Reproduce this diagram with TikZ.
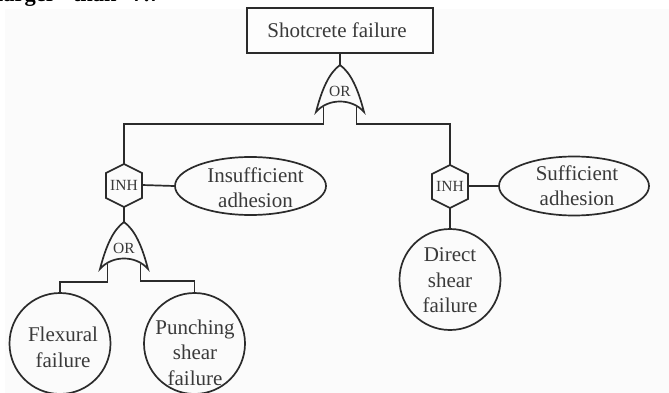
\documentclass[tikz,border=0pt]{standalone}
\usepackage{fontspec}
\setmainfont{Liberation Serif}
\usetikzlibrary{shapes.geometric}
\definecolor{ink}{HTML}{2B2B2B}
\definecolor{txt}{HTML}{3A3A3A}
\definecolor{panel}{HTML}{FBFBFB}
\tikzset{
  x=1pt,y=-1pt,
  line/.style={draw=ink,line width=1.7pt,line join=miter},
  topbox/.style={line,minimum width=186pt,minimum height=45pt,inner sep=0pt},
  cond/.style={line,ellipse,inner sep=0pt},
  basic/.style={line,circle,minimum size=101pt,inner sep=0pt},
  body/.style={inner sep=0pt,align=center,font=\fontsize{21}{25.5}\selectfont,text=txt},
  gatetext/.style={inner sep=0pt,font=\fontsize{15.5}{17}\selectfont,text=txt},
  cnr/.style={line}
}
\newcommand{\orgate}[3]{% name, x, apex y
  \path (#2,#3) coordinate (#1top) (#2-16.5,#3+42) coordinate (#1l) (#2+16.5,#3+42) coordinate (#1r);
  \draw[line] (#2,#3) .. controls (#2+11,#3+8) and (#2+18,#3+24) .. (#2+24,#3+47)
     .. controls (#2+12,#3+33) and (#2-12,#3+33) .. (#2-24,#3+47)
     .. controls (#2-18,#3+24) and (#2-11,#3+8) .. cycle;
  \node[gatetext] (#1t) at (#2,#3+26) {OR};
}
\newcommand{\inhgate}[3]{% name, x, top y
  \draw[line] (#2,#3) -- (#2+18,#3+9) -- (#2+18,#3+34) -- (#2,#3+43) -- (#2-18,#3+34) -- (#2-18,#3+9) -- cycle;
  \path (#2,#3) coordinate (#1top) (#2,#3+43) coordinate (#1bot) (#2+18,#3+21) coordinate (#1r);
  \node[gatetext] (#1t) at (#2,#3+21.5) {INH};
}
\begin{document}
\begin{tikzpicture}
\useasboundingbox (0,0) rectangle (669,393);
\fill[panel] (5,9) rectangle (669,393);
\begin{scope}
\clip (0,0) rectangle (669,393);
\node[anchor=base west,inner sep=0pt,font=\bfseries\fontsize{22.5}{24}\selectfont] (head) at (-3,1.5) {larger\hspace{17pt}than\hspace{16pt}7.7};
\end{scope}

\node[topbox,fill=white!40!panel] (top) at (340,30.5) {};
\node[body] (topt) at (337,30.5) {Shotcrete failure};
\orgate{ga}{340}{65}
\inhgate{ha}{124}{164}
\inhgate{hb}{450}{165}
\orgate{gb}{124}{222}

\node[cond,minimum width=151pt,minimum height=58pt] (ia) at (250.5,186) {};
\node[body] (iat) at (255.5,187.5) {Insufficient\\adhesion};
\node[cond,minimum width=150pt,minimum height=59pt] (sa) at (574,186) {};
\node[body] (sat) at (577,185.5) {Sufficient\\adhesion};
\node[basic] (ff) at (60,343.5) {};
\node[body] (fft) at (63,347.5) {Flexural\\failure};
\node[basic] (ps) at (194.5,343.5) {};
\node[body] (pst) at (195,352.5) {Punching\\shear\\failure};
\node[basic] (ds) at (450,279.5) {};
\node[body] (dst) at (450,280.5) {Direct\\shear\\failure};

\draw[cnr] (top.south) -- (gatop);
\draw[cnr] (gal) -- ++(0,17) -| (hatop);
\draw[cnr] (gar) -- ++(0,17) -| (hbtop);
\draw[cnr] (har) -- (ia.west);
\draw[cnr] (hbr) -- (sa.west);
\draw[cnr] (habot) -- (gbtop);
\draw[cnr] (hbbot) -- (ds.north);
\draw[cnr] (gbl) -- ++(0,18) -| (ff.north);
\draw[cnr] (gbr) -- ++(0,17) -| (ps.north);
\end{tikzpicture}
\end{document}
